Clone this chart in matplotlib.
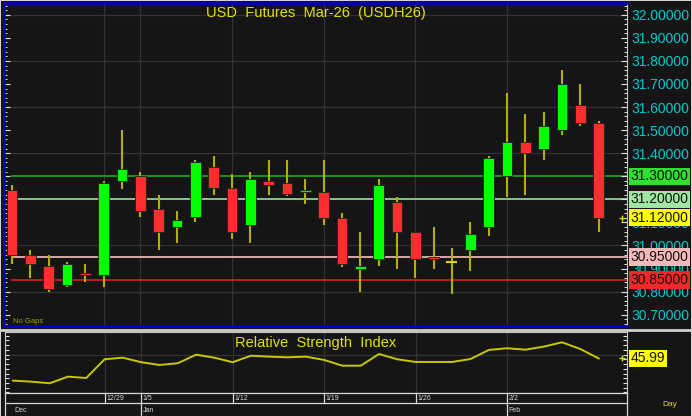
import matplotlib
matplotlib.use("Agg")
import matplotlib.pyplot as plt
from matplotlib.patches import Rectangle
from matplotlib.ticker import MultipleLocator, FixedLocator
import numpy as np

plt.rcParams['font.family'] = ['Liberation Sans', 'DejaVu Sans']

# ---- data ----
opens = [31.24, 30.96, 30.91, 30.83, 30.88, 30.87, 31.28, 31.30, 31.16, 31.08, 31.125,
         31.34, 31.25, 31.09, 31.28, 31.27, 31.23, 31.23, 31.12, 30.90, 30.94, 31.19,
         31.06, 30.95, 30.93, 30.98, 31.08, 31.30, 31.45, 31.42, 31.50, 31.61, 31.53]
highs = [31.26, 30.98, 30.96, 30.93, 30.92, 31.28, 31.50, 31.32, 31.22, 31.15, 31.37,
         31.39, 31.31, 31.32, 31.37, 31.37, 31.29, 31.37, 31.14, 31.06, 31.29, 31.21,
         31.06, 31.08, 30.99, 31.10, 31.39, 31.66, 31.57, 31.58, 31.76, 31.70, 31.54]
lows = [30.92, 30.86, 30.80, 30.82, 30.84, 30.82, 31.245, 31.125, 30.98, 31.01, 31.10,
        31.22, 31.03, 31.01, 31.22, 31.215, 31.18, 31.09, 30.905, 30.80, 30.91, 30.90,
        30.86, 30.90, 30.79, 30.89, 31.04, 31.21, 31.22, 31.37, 31.48, 31.52, 31.06]
closes = [30.96, 30.92, 30.81, 30.92, 30.87, 31.27, 31.33, 31.15, 31.06, 31.11, 31.36,
          31.25, 31.06, 31.29, 31.26, 31.225, 31.24, 31.12, 30.92, 30.91, 31.26, 31.06,
          30.94, 30.94, 30.93, 31.05, 31.38, 31.45, 31.40, 31.52, 31.70, 31.53, 31.12]
rsi = [22.5, 21.4, 19.7, 26.7, 25.3, 45.1, 46.8, 42.0, 39.1, 40.9, 50.0, 46.8, 42.0,
       48.9, 47.9, 47.2, 47.9, 44.4, 38.3, 38.3, 50.7, 45.1, 42.3, 42.3, 42.3, 45.4,
       55.0, 56.8, 55.3, 58.5, 63.1, 56.0, 45.99]

level_prices = [31.30, 31.20, 31.12, 30.95, 30.85]
level_labels = ['31.30000', '31.20000', '31.12000', '30.95000', '30.85000']
week_pos = [5, 7, 12, 17, 22, 27]
week_labels = ['12/29', '1/5', '1/12', '1/19', '1/26', '2/2']
month_pos = [0, 7, 27]
month_labels = ['Dec', 'Jan', 'Feb']

title = 'USD  Futures  Mar-26  (USDH26)'

# ---- layout (pixel based) ----
W, H = 692, 416
def rect(x0, y0, x1, y1):
    return [x0 / W, 1 - y1 / H, (x1 - x0) / W, (y1 - y0) / H]

BG = '#151515'
GRID = '#333333'
WICK = '#b0b000'
UP = '#00ff00'
DOWN = '#ff2d2d'
BLUE = '#0000c8'
x = np.arange(len(opens))
xlim = (-0.44, 33.55)

fig = plt.figure(figsize=(W / 100, H / 100), dpi=100, facecolor='#d4d4d4')
fig.patches.append(Rectangle((1 / W, 0), (W - 2) / W, 1 - 1 / H, transform=fig.transFigure,
                             facecolor=BG, edgecolor='none', zorder=-2))
fig.lines.append(plt.Line2D([0, 1], [1 - 329.5 / H] * 2, transform=fig.transFigure,
                            color='#d0d0d0', lw=2, zorder=-1))

# ---- main price panel ----
ax = fig.add_axes(rect(4, 3, 627, 326))
ax.set_facecolor(BG)
ax.set_xlim(*xlim)
ax.set_ylim(30.651, 32.051)
for s in ['left', 'top', 'bottom']:
    ax.spines[s].set_color(BLUE)
    ax.spines[s].set_linewidth(1.8)
ax.spines['right'].set_color('#c8c8c8')
ax.spines['right'].set_linewidth(0.8)

for g in np.arange(30.8, 32.01, 0.2):
    ax.axhline(g, color=GRID, lw=0.9, zorder=0)
for p in week_pos:
    ax.axvline(p, color=GRID, lw=0.9, zorder=0)

ax.yaxis.tick_right()
ax.yaxis.set_major_locator(MultipleLocator(0.1))
ax.yaxis.set_minor_locator(MultipleLocator(0.02))
ax.yaxis.set_major_formatter(lambda v, pos: '%.5f' % v)
ax.tick_params(axis='y', which='both', direction='in', colors='#e0e0e0', left=True,
               right=True, labelcolor='#00c8d2', labelsize=10, pad=3)
ax.tick_params(axis='y', which='major', length=4, width=0.8)
ax.tick_params(axis='y', which='minor', length=2, width=0.7)
ax.tick_params(axis='x', bottom=False, labelbottom=False)

# level lines
level_line_colors = ['#1aa01a', '#8fcf8f', None, '#e8b4b4', '#c82020']
level_box_colors = ['#33dd33', '#a0e6a0', '#ffff00', '#f4b8b8', '#f02828']
for price, lab, lc, bc in zip(level_prices, level_labels, level_line_colors, level_box_colors):
    if lc is not None:
        ax.plot([0, xlim[1]], [price, price], color=lc, lw=1.3, zorder=1)
    ax.text(1.006, price, lab, transform=ax.get_yaxis_transform(), va='center', ha='left',
            fontsize=10, color='#101010', zorder=5,
            bbox=dict(boxstyle='square,pad=0.12', facecolor=bc, edgecolor='none'))
ax.plot([0.992], [31.12], transform=ax.get_yaxis_transform(), marker='+', color='#e0e000',
        ms=4, mew=1, clip_on=False)

# candles
for i in x:
    o, hi, lo, c = opens[i], highs[i], lows[i], closes[i]
    ax.vlines(i, lo, hi, color=WICK, lw=1.5, zorder=2)
    if abs(c - o) < 0.003:
        ax.hlines(o, i - 0.3, i + 0.3, color='#d8d800', lw=1.5, zorder=3)
    else:
        ax.bar(i, abs(c - o), bottom=min(o, c), width=0.58, color=UP if c > o else DOWN,
               edgecolor='#202020', linewidth=0.6, zorder=3)

ax.text(0.5, 0.992, title, transform=ax.transAxes, ha='center', va='top', fontsize=10.5,
        color='#e2e200')
ax.text(0.015, 0.004, 'No Gaps', transform=ax.transAxes, ha='left', va='bottom',
        fontsize=5.5, color='#a0a000')

# ---- RSI panel ----
ar = fig.add_axes(rect(5, 332, 627, 393))
ar.set_facecolor(BG)
ar.set_xlim(*xlim)
ar.set_ylim(9.4, 74.0)
for s in ar.spines.values():
    s.set_color('#c8c8c8')
    s.set_linewidth(0.8)
ar.axhline(50, color=GRID, lw=0.9, zorder=0)
for p in week_pos:
    ar.axvline(p, color=GRID, lw=0.9, zorder=0)
ar.plot(x, rsi, color='#c8c800', lw=1.4)
ar.yaxis.tick_right()
ar.yaxis.set_major_locator(FixedLocator([50]))
ar.yaxis.set_minor_locator(MultipleLocator(5))
ar.tick_params(axis='y', which='both', direction='in', colors='#e0e0e0', left=True,
               right=True, labelsize=10, pad=3, length=3, width=0.8)
ar.tick_params(axis='x', bottom=False, labelbottom=False)
ar.text(0.5, 0.93, 'Relative  Strength  Index', transform=ar.transAxes, ha='center',
        va='top', fontsize=10.5, color='#e2e200')
ar.text(1.006, rsi[-1], '%.2f' % rsi[-1], transform=ar.get_yaxis_transform(), va='center',
        ha='left', fontsize=10, color='#101010', zorder=5,
        bbox=dict(boxstyle='square,pad=0.12', facecolor='#ffff00', edgecolor='none'))
ar.plot([0.992], [rsi[-1]], transform=ar.get_yaxis_transform(), marker='+', color='#e0e000',
        ms=4, mew=1, clip_on=False)

# ---- date rows ----
ad = fig.add_axes(rect(5, 393, 627, 416))
ad.set_facecolor(BG)
ad.set_xlim(*xlim)
ad.set_ylim(0, 23)
ad.set_xticks([])
ad.set_yticks([])
ad.spines['bottom'].set_visible(False)
for s in ['top', 'left', 'right']:
    ad.spines[s].set_color('#d8d8d8')
    ad.spines[s].set_linewidth(0.9)
ad.axhline(13, color='#d8d8d8', lw=0.9)
for p, lab in zip(week_pos, week_labels):
    ad.plot([p, p], [13, 23], color='#d8d8d8', lw=0.9)
    ad.text(p + 0.08, 17.5, lab, fontsize=5, color='#d8d8d8', va='center', ha='left')
for p, lab in zip(month_pos, month_labels):
    if p > 0:
        ad.plot([p, p], [0, 13], color='#d8d8d8', lw=0.9)
    ad.text(p + 0.08, 6, lab, fontsize=5, color='#d8d8d8', va='center', ha='left')

fig.text(670 / W, 1 - 405 / H, 'Day', ha='center', va='center', fontsize=6, color='#d8d800')

fig.savefig('out.png', dpi=100, facecolor=fig.get_facecolor())
